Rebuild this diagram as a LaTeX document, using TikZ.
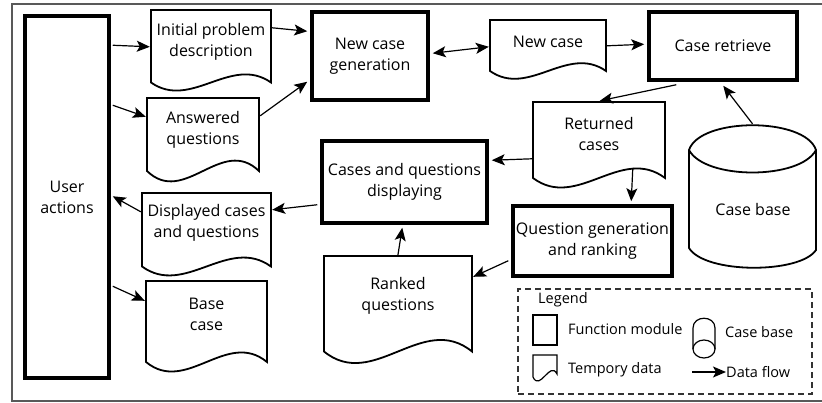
\documentclass[tikz,border=0pt]{standalone}
\usepackage{fontspec}
\setmainfont{Open Sans}
\usetikzlibrary{arrows.meta,calc}
\newcommand\mainfs{\fontsize{16}{21}\selectfont}
\newcommand\legfs{\fontsize{14.5}{17}\selectfont}
\newcommand\docshape[8]{%
  \draw[docline] (#2,#5) -- (#2,#3) -- (#4,#3) -- (#4,#5)
     .. controls ({#4-(#4-#2)/3},{#5-#6}) and ({#2+(#4-#2)/3},{#5+#6}) .. (#2,#5) -- cycle;
  \pgfmathsetmacro\dw{#4-#2}\pgfmathsetmacro\dh{#5-#3}%
  \node[docnode, minimum width=\dw pt, minimum height=\dh pt] (#1) at ({(#2+#4)/2},{(#3+#5)/2}) {};
  \node[doctext] (#1t) at ({(#2+#4)/2},#8) {#7};
}
\begin{document}
\begin{tikzpicture}[x=1pt,y=-1pt,
  module/.style={draw=black, line width=3.5pt, inner sep=0pt, align=center, font=\mainfs},
  docnode/.style={draw=none, inner sep=0pt},
  doctext/.style={inner sep=0pt, align=center, font=\mainfs},
  docline/.style={draw=black, line width=1.8pt, line join=miter},
  flow/.style={draw=black, line width=1.2pt, -{Stealth[length=13pt,width=11pt,inset=3pt]}},
  dflow/.style={draw=black, line width=1.2pt, {Stealth[length=13pt,width=11pt,inset=3pt]}-{Stealth[length=13pt,width=11pt,inset=3pt]}},
  legtext/.style={inner sep=0pt, anchor=west, font=\legfs},
]
\useasboundingbox (0,0) rectangle (822,403);
\fill[white] (0,0) rectangle (822,403);
\draw[black!65, line width=1.5pt] (824,4) -- (12,4) -- (12,401) -- (824,401);

% function modules
\node[module, minimum width=84pt, minimum height=362pt] (ua) at (67,197) {User\\actions};
\node[module, minimum width=116pt, minimum height=88pt] (ncg) at (370,56) {New case\\generation};
\node[module, minimum width=148pt, minimum height=68pt] (cr) at (723,46) {Case retrieve};
\node[module, minimum width=165pt, minimum height=82pt] (cqd) at (404.5,182) {Cases and questions\\displaying};
\node[module, minimum width=159pt, minimum height=70pt] (qgr) at (592.5,241) {Question generation\\and ranking};

% temporary data
\docshape{ipd}{151}{10}{271}{82.5}{28}{Initial problem\\description}{41.5}
\docshape{aq}{147}{98}{259}{171}{36}{Answered\\questions}{129.5}
\docshape{dcq}{142}{193}{271}{266.5}{31}{Displayed cases\\and questions}{223}
\docshape{bc}{146}{281}{267}{362}{33}{Base\\case}{314.5}
\docshape{nc}{490}{20}{606}{71}{27}{New case}{42}
\docshape{rc}{533}{102}{665}{178}{33}{Returned\\cases}{134}
\docshape{rq}{324}{256}{472}{351.5}{40}{Ranked\\questions}{295.5}

% case base cylinder
\draw[docline] (689,150) .. controls (700,117) and (805,117) .. (816,150)
  -- (816,250) .. controls (800,274) and (705,274) .. (689,248) -- cycle;
\draw[docline] (689,150) .. controls (705,180) and (800,180) .. (816,150);
\node[docnode, minimum width=127pt, minimum height=145pt] (cb) at (752.5,196.5) {};
\node[doctext] (cbt) at (753,210) {Case base};

% data flows
\draw[flow] ($(ua.north east)+(2,31)$) -- ($(ipd.north west)+(-1,37)$);
\draw[flow] ($(ua.north east)+(2,91)$) -- ($(aq.north west)+(-1,19)$);
\draw[flow] ($(ipd.north east)+(1,18)$) -- ($(ncg.north west)+(-3,21)$);
\draw[flow] ($(aq.north east)+(1,18)$) -- ($(ncg.south west)+(-3,-20)$);
\draw[dflow] ($(ncg.north east)+(3,43)$) -- ($(nc.north west)+(-1,27)$);
\draw[flow] ($(nc.north east)+(1,26)$) -- ($(cr.north west)+(-3,34)$);
\draw[flow] ($(cr.south west)+(29,3)$) -- ($(rc.north west)+(67,-1)$);
\draw[flow] (cb.north) -- ($(cr.south west)+(76,4)$);
\draw[flow] ($(rc.north west)+(-1,57)$) -- ($(cqd.north east)+(3,21)$);
\draw[flow] ($(rc.north west)+(100,66)$) -- ($(qgr.north west)+(120,-3)$);
\draw[flow] ($(qgr.south west)+(-3,-17)$) -- ($(rq.north east)+(1,21)$);
\draw[flow] ($(rq.north west)+(74,0)$) -- ($(cqd.south west)+(82,3)$);
\draw[flow] ($(cqd.south west)+(-3,-20)$) -- ($(dcq.north east)+(1,17)$);
\draw[flow] ($(dcq.north west)+(-1,19)$) -- ($(ua.north east)+(2,182)$);
\draw[flow] ($(ua.north east)+(2,272)$) -- ($(bc.north west)+(-1,20)$);

% legend
\node[draw=black!80, dashed, dash pattern=on 6pt off 4pt, line width=1.2pt, inner sep=0pt,
      minimum width=294pt, minimum height=105pt] (lg) at (665,341.5) {};
\node[legtext] (lgt) at (538,300) {Legend};
\node[draw=black, line width=1.2pt, inner sep=0pt, minimum width=24pt, minimum height=30pt] (lgm) at (545,330) {};
\node[legtext] (lgmt) at (568,329) {Function module};
\draw[black, line width=1.2pt] (533,377) -- (533,355) -- (557,355) -- (557,374)
  .. controls (550,360) and (540,392) .. (533,377);
\node[legtext] (lgdt) at (568,370) {Tempory data};
\draw[black, line width=1.2pt] (693,349) -- (693,328) .. controls (693,315) and (715,315) .. (715,328) -- (715,349);
\draw[black, line width=1.2pt] (704,349) ellipse [x radius=11, y radius=9];
\node[legtext] (lgct) at (725,332) {Case base};
\coordinate (lgas) at (692,372);
\node[legtext] (lgat) at (726,372) {Data flow};
\draw[flow] (lgas) -- (lgat.west);
\end{tikzpicture}
\end{document}
